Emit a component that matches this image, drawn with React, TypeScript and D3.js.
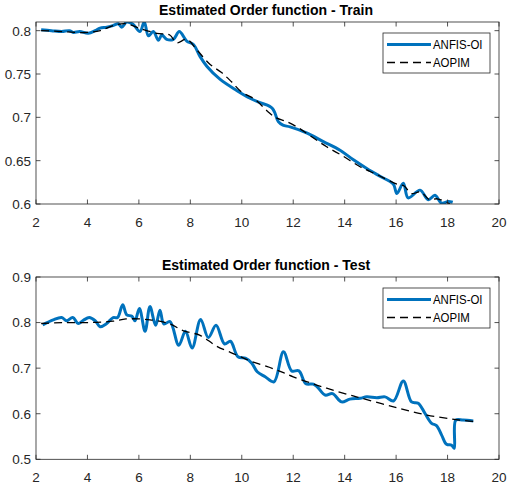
import * as d3 from 'd3'

// ---- data ----
const xTicks = [2, 4, 6, 8, 10, 12, 14, 16, 18, 20]
const trainYTicks = [0.6, 0.65, 0.7, 0.75, 0.8]
const testYTicks = [0.5, 0.6, 0.7, 0.8, 0.9]
const seriesNames = ['ANFIS-OI', 'AOPIM']

const trainAnfisX = [2.2, 2.6, 3.0, 3.3, 3.45, 3.7, 4.03, 4.3, 4.49, 4.75, 5.0, 5.2, 5.33, 5.53, 5.78, 6.04, 6.21, 6.37, 6.56, 6.76, 6.89, 7.08, 7.34, 7.57, 7.86, 8.12, 8.38, 8.64, 9.15, 9.8, 10.32, 10.71, 11.07, 11.2, 11.29, 11.42, 11.6, 11.88, 12.52, 13.17, 13.82, 14.34, 14.86, 15.37, 15.89, 16.03, 16.28, 16.47, 16.93, 17.25, 17.51, 17.77, 18.03, 18.2]
const trainAnfis = [0.801, 0.8, 0.799, 0.8, 0.798, 0.799, 0.797, 0.8, 0.803, 0.804, 0.806, 0.808, 0.804, 0.81, 0.807, 0.799, 0.81, 0.794, 0.799, 0.789, 0.795, 0.79, 0.79, 0.799, 0.788, 0.784, 0.77, 0.759, 0.744, 0.731, 0.722, 0.717, 0.713, 0.71, 0.705, 0.695, 0.691, 0.689, 0.682, 0.672, 0.662, 0.651, 0.641, 0.632, 0.623, 0.612, 0.624, 0.607, 0.616, 0.605, 0.61, 0.601, 0.603, 0.602]

const trainAopimX = [2.2, 3.0, 3.5, 4.0, 4.5, 5.0, 5.5, 6.0, 6.69, 7.2, 7.47, 7.86, 8.25, 8.77, 9.2, 9.6, 10.0, 10.5, 11.0, 11.3, 11.75, 12.2, 12.65, 13.3, 13.95, 14.6, 15.25, 16.03, 16.3, 16.6, 16.95, 17.3, 17.6, 18.1]
const trainAopim = [0.8, 0.799, 0.798, 0.798, 0.8, 0.806, 0.808, 0.803, 0.797, 0.795, 0.786, 0.79, 0.778, 0.761, 0.752, 0.741, 0.729, 0.721, 0.707, 0.7, 0.695, 0.688, 0.679, 0.666, 0.655, 0.643, 0.634, 0.623, 0.621, 0.612, 0.614, 0.605, 0.606, 0.6]

const testAnfisX = [2.26, 2.67, 3.0, 3.19, 3.43, 3.64, 3.84, 4.07, 4.3, 4.49, 4.75, 5.0, 5.17, 5.37, 5.53, 5.73, 5.85, 6.02, 6.24, 6.43, 6.65, 6.82, 6.97, 7.21, 7.55, 7.81, 8.07, 8.4, 8.7, 9.0, 9.33, 9.56, 9.85, 10.14, 10.39, 10.6, 10.91, 11.25, 11.62, 11.94, 12.22, 12.49, 12.78, 12.95, 13.24, 13.53, 13.88, 14.2, 14.6, 14.86, 15.25, 15.57, 15.9, 16.28, 16.6, 16.86, 17.12, 17.38, 17.57, 17.77, 17.96, 18.16, 18.26, 18.32, 18.6, 19.0]
const testAnfis = [0.795, 0.806, 0.811, 0.804, 0.811, 0.798, 0.805, 0.811, 0.804, 0.791, 0.798, 0.811, 0.811, 0.839, 0.817, 0.814, 0.804, 0.831, 0.781, 0.835, 0.794, 0.827, 0.797, 0.802, 0.75, 0.781, 0.744, 0.807, 0.767, 0.794, 0.753, 0.759, 0.725, 0.722, 0.711, 0.692, 0.681, 0.67, 0.736, 0.694, 0.694, 0.666, 0.665, 0.658, 0.641, 0.644, 0.626, 0.632, 0.634, 0.637, 0.635, 0.637, 0.628, 0.672, 0.626, 0.623, 0.601, 0.579, 0.574, 0.553, 0.533, 0.531, 0.524, 0.586, 0.586, 0.584]

const testAopimX = [2.2, 3.0, 4.0, 5.0, 5.5, 6.43, 7.2, 7.73, 8.38, 9.03, 9.8, 10.32, 11.07, 11.62, 12.0, 12.91, 13.3, 14.2, 14.6, 15.9, 17.2, 18.49, 19.0]
const testAopim = [0.798, 0.8, 0.8, 0.803, 0.808, 0.806, 0.797, 0.782, 0.772, 0.748, 0.729, 0.716, 0.702, 0.69, 0.681, 0.663, 0.656, 0.641, 0.635, 0.615, 0.597, 0.586, 0.583]

const BLUE = '#0072BD'
const AXIS = '#262626'
const FONT = '"Liberation Sans", Arial, Helvetica, sans-serif'
const DASH = '8,5'

type PanelProps = {
  id: string
  title: string
  top: number
  bottom: number
  yDomain: [number, number]
  yTicks: number[]
  anfisX: number[]
  anfis: number[]
  aopimX: number[]
  aopim: number[]
}

function Panel(p: PanelProps) {
  const left = 36
  const right = 499
  const x = d3.scaleLinear().domain([2, 20]).range([left, right])
  const y = d3.scaleLinear().domain(p.yDomain).range([p.bottom, p.top])
  const line = d3
    .line<[number, number]>()
    .x(d => x(d[0]))
    .y(d => y(d[1]))
    .curve(d3.curveCatmullRom.alpha(0.5))
  const blueData = p.anfisX.map((v, i) => [v, p.anfis[i]] as [number, number])
  const blackData = p.aopimX.map((v, i) => [v, p.aopim[i]] as [number, number])
  const tl = 4.5
  const lgX = 383
  const lgY = p.top + 11
  return (
    <g>
      <defs>
        <clipPath id={p.id}>
          <rect x={left} y={p.top} width={right - left} height={p.bottom - p.top} />
        </clipPath>
      </defs>
      <rect x={left} y={p.top} width={right - left} height={p.bottom - p.top} fill="#fff" />
      <g clipPath={`url(#${p.id})`}>
        <path d={line(blueData) || ''} fill="none" stroke={BLUE} strokeWidth={3} strokeLinejoin="round" />
        <path d={line(blackData) || ''} fill="none" stroke="#000" strokeWidth={1.3} strokeDasharray={DASH} />
      </g>
      {/* box + inward ticks */}
      <rect x={left} y={p.top} width={right - left} height={p.bottom - p.top} fill="none" stroke={AXIS} strokeWidth={0.8} />
      {xTicks.map(t => (
        <g key={'x' + t}>
          <line x1={x(t)} x2={x(t)} y1={p.bottom} y2={p.bottom - tl} stroke={AXIS} strokeWidth={0.8} />
          <line x1={x(t)} x2={x(t)} y1={p.top} y2={p.top + tl} stroke={AXIS} strokeWidth={0.8} />
          <text x={x(t)} y={p.bottom + 23} textAnchor="middle" fontSize={13.5} fill={AXIS} fontFamily={FONT}>
            {t}
          </text>
        </g>
      ))}
      {p.yTicks.map(t => (
        <g key={'y' + t}>
          <line x1={left} x2={left + tl} y1={y(t)} y2={y(t)} stroke={AXIS} strokeWidth={0.8} />
          <line x1={right} x2={right - tl} y1={y(t)} y2={y(t)} stroke={AXIS} strokeWidth={0.8} />
          <text x={31} y={y(t)} dy="0.36em" textAnchor="end" fontSize={13.5} fill={AXIS} fontFamily={FONT}>
            {String(t)}
          </text>
        </g>
      ))}
      <text x={266} y={p.top - 7} textAnchor="middle" fontSize={14} fontWeight="bold" fill="#000" fontFamily={FONT}>
        {p.title}
      </text>
      {/* legend */}
      <rect x={lgX} y={p.top + 11} width={107} height={40} fill="#fff" stroke={AXIS} strokeWidth={0.8} />
      <line x1={lgX + 4} x2={lgX + 48} y1={lgY + 11.5} y2={lgY + 11.5} stroke={BLUE} strokeWidth={3} />
      <line x1={lgX + 4} x2={lgX + 48} y1={lgY + 29.5} y2={lgY + 29.5} stroke="#000" strokeWidth={1.3} strokeDasharray={DASH} />
      {seriesNames.map((n, i) => (
        <text
          key={n}
          transform={`translate(${lgX + 50},${lgY + 11.5 + i * 18}) scale(0.88,1)`}
          dy="0.36em"
          fontSize={13}
          fill="#000"
          fontFamily={FONT}
        >
          {n}
        </text>
      ))}
    </g>
  )
}

export default function App() {
  return (
    <svg width={508} height={485} style={{ position: 'absolute', left: 0, top: 0, background: '#fff' }}>
      <rect width={508} height={485} fill="#fff" />
      <Panel
        id="clipTrain"
        title="Estimated Order function - Train"
        top={22}
        bottom={204}
        yDomain={[0.6, 0.81]}
        yTicks={trainYTicks}
        anfisX={trainAnfisX}
        anfis={trainAnfis}
        aopimX={trainAopimX}
        aopim={trainAopim}
      />
      <Panel
        id="clipTest"
        title="Estimated Order function - Test"
        top={277}
        bottom={459.3}
        yDomain={[0.5, 0.9]}
        yTicks={testYTicks}
        anfisX={testAnfisX}
        anfis={testAnfis}
        aopimX={testAopimX}
        aopim={testAopim}
      />
    </svg>
  )
}
